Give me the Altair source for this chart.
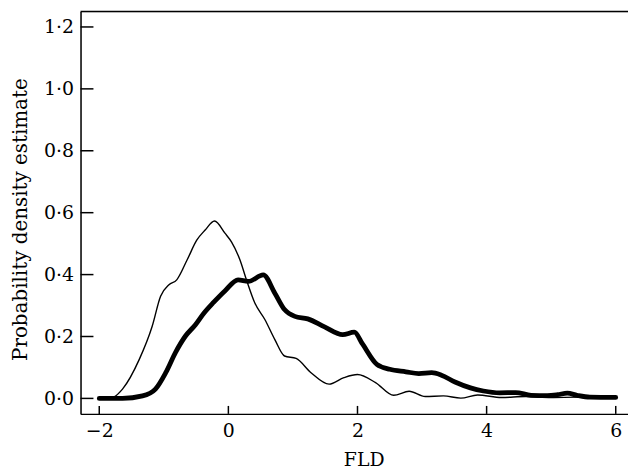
import altair as alt
import pandas as pd

# Thin curve
thin_x = [-2.0, -1.85, -1.77, -1.64, -1.38, -1.18, -1.05, -0.92, -0.80, -0.64, -0.49, -0.36,
          -0.215, -0.05, 0.05, 0.18, 0.28, 0.41, 0.565, 0.72, 0.87, 1.05, 1.28, 1.56, 1.79,
          2.0, 2.28, 2.56, 2.8, 3.05, 3.33, 3.6, 3.86, 4.23, 4.6, 5.0, 5.4, 5.8, 6.0]
thin_y = [0.0, 0.0, 0.005, 0.03, 0.126, 0.233, 0.33, 0.367, 0.383, 0.447, 0.511, 0.544,
          0.573, 0.533, 0.505, 0.447, 0.383, 0.308, 0.255, 0.19, 0.137, 0.129, 0.083, 0.046, 0.067,
          0.077, 0.051, 0.01, 0.023, 0.006, 0.008, 0.001, 0.011, 0.003, 0.006, 0.003, 0.004, 0.002, 0.002]

# Thick curve
thick_x = [-2.0, -1.64, -1.33, -1.13, -0.97, -0.82, -0.67, -0.51, -0.38, -0.23, -0.05, 0.15,
           0.31, 0.54, 0.72, 0.87, 1.03, 1.23, 1.49, 1.77, 1.95, 2.08, 2.30, 2.50, 2.75, 2.95,
           3.15, 3.30, 3.51, 3.75, 3.95, 4.2, 4.45, 4.69, 4.94, 5.1, 5.25, 5.4, 5.6, 6.0]
thick_y = [0.0, 0.0, 0.008, 0.03, 0.083, 0.148, 0.2, 0.238, 0.275, 0.31, 0.348, 0.383,
           0.378, 0.399, 0.34, 0.287, 0.265, 0.257, 0.231, 0.206, 0.214, 0.175, 0.11, 0.094, 0.086, 0.08,
           0.083, 0.075, 0.053, 0.034, 0.024, 0.018, 0.019, 0.01, 0.009, 0.012, 0.017, 0.01, 0.004, 0.003]

x_ticks = [-2, 0, 2, 4, 6]
y_ticks = [0.0, 0.2, 0.4, 0.6, 0.8, 1.0, 1.2]

FONT = "DejaVu Serif"
W, H = 551, 405

thin_df = pd.DataFrame({"x": thin_x, "y": thin_y})
thick_df = pd.DataFrame({"x": thick_x, "y": thick_y})
xt_df = pd.DataFrame({"x": x_ticks})
yt_df = pd.DataFrame({"y": y_ticks})

xs = alt.Scale(domain=[-2.29, 6.19], nice=False, zero=False)
ys = alt.Scale(domain=[-0.05, 1.25], nice=False, zero=False)

x_axis = alt.Axis(values=x_ticks, ticks=False, grid=False, title="FLD",
                  labelFont=FONT, labelFontSize=19, labelColor="black", labelPadding=8,
                  titleFont=FONT, titleFontSize=19, titleFontWeight="normal", titleColor="black",
                  titleX=285, titleY=52, titleBaseline="alphabetic",
                  domainColor="black", domainWidth=1.5)
y_axis = alt.Axis(values=y_ticks, ticks=False, grid=False, title="Probability density estimate",
                  labelExpr="replace(format(datum.value, '.1f'), '.', '·')",
                  labelFont=FONT, labelFontSize=19, labelColor="black", labelPadding=7,
                  titleFont=FONT, titleFontSize=20, titleFontWeight="normal", titleColor="black",
                  titleX=-60, titleY=209, titleAngle=-90, titleBaseline="middle", titleAlign="center",
                  domainColor="black", domainWidth=1.5)

X = alt.X("x:Q", scale=xs, axis=x_axis)
Y = alt.Y("y:Q", scale=ys, axis=y_axis)

thin = alt.Chart(thin_df).mark_line(color="black", strokeWidth=1.4, interpolate="monotone").encode(
    x=X, y=Y,
)
thick = alt.Chart(thick_df).mark_line(color="black", strokeWidth=4.8, interpolate="monotone",
                                      strokeCap="round").encode(
    x=X, y=Y,
)

ytick_layer = alt.Chart(yt_df).mark_rule(color="black", strokeWidth=1.5).encode(
    y=Y, x=alt.value(0), x2=alt.value(13),
)
xtick_layer = alt.Chart(xt_df).mark_rule(color="black", strokeWidth=1.5).encode(
    x=X, y=alt.value(H), y2=alt.value(H - 8),
)
top_line = alt.Chart(pd.DataFrame({"v": [0]})).mark_rule(color="black", strokeWidth=1.5).encode(
    x=alt.value(0), x2=alt.value(W), y=alt.value(0),
)

chart = alt.layer(thin, thick, ytick_layer, xtick_layer, top_line).properties(
    width=W, height=H,
    autosize=alt.AutoSizeParams(type="none"),
    padding={"left": 73, "top": 2, "right": 0, "bottom": 58},
).configure_view(stroke=None).configure(background="white")

chart.save("out.html", embed_options={"renderer": "svg", "actions": False})
